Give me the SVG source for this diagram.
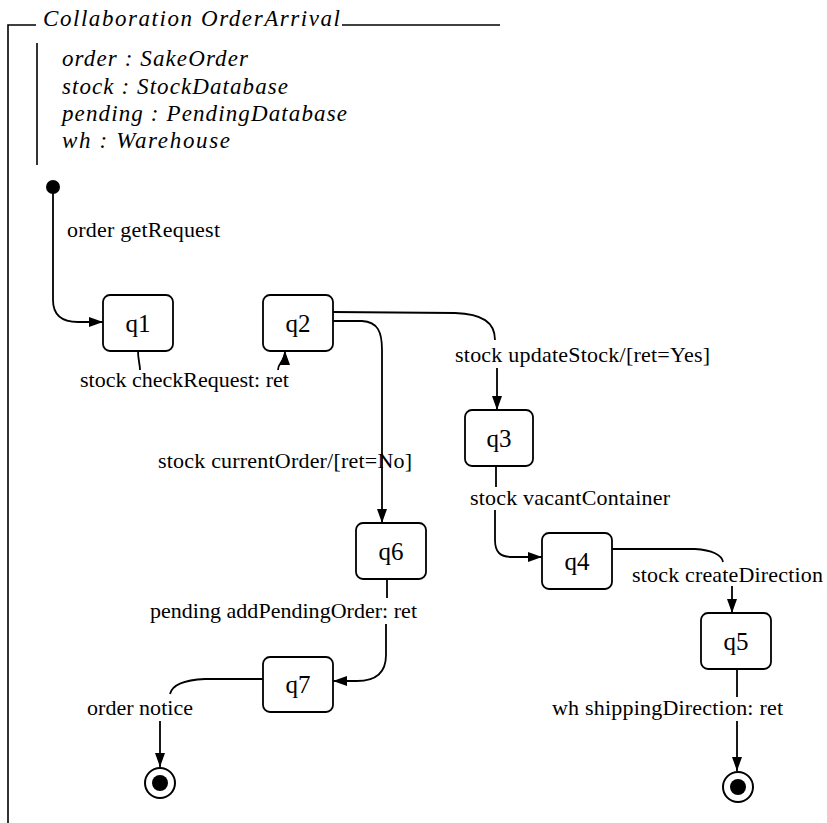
<svg xmlns="http://www.w3.org/2000/svg" width="827" height="823" viewBox="0 0 827 823">
<defs>
<style>
.frame{stroke:#000;stroke-width:1.6;fill:none}
.box{fill:#fff;stroke:#000;stroke-width:1.8}
.ql{font-family:"Liberation Serif","Times New Roman",serif;font-size:25px;text-anchor:middle;fill:#000}
.lbl{font-family:"Liberation Serif","Times New Roman",serif;font-size:22px;fill:#000}
.it{font-family:"Liberation Serif","Times New Roman",serif;font-style:italic;font-size:23px;fill:#000}
.edge{stroke:#000;stroke-width:1.8;fill:none}
</style>
<marker id="arr" viewBox="0 0 14 10" refX="14" refY="5" markerWidth="14" markerHeight="10" markerUnits="userSpaceOnUse" orient="auto">
<path d="M0,0 L14,5 L0,10 Z" fill="#000"/>
</marker>
</defs>
<rect width="827" height="823" fill="#fff"/>
<g id="frame">
<path class="frame" d="M8,823 L8,25 L36,25"/>
<path class="frame" d="M342,25 L500,25"/>
<text class="it" x="43" y="26" textLength="297" lengthAdjust="spacing">Collaboration OrderArrival</text>
<path class="frame" d="M37,43 L37,165"/>
<text class="it" x="62" y="66" textLength="186" lengthAdjust="spacing">order : SakeOrder</text>
<text class="it" x="62" y="94" textLength="226" lengthAdjust="spacing">stock : StockDatabase</text>
<text class="it" x="62" y="121" textLength="285" lengthAdjust="spacing">pending : PendingDatabase</text>
<text class="it" x="62" y="148" textLength="168" lengthAdjust="spacing">wh : Warehouse</text>
</g>
<g id="connectors">
<path class="edge" d="M53,193 L53,300 Q53,322 78,322 L103,322" marker-end="url(#arr)"/>
<path class="edge" d="M138,351 C138,360 140,364 140,370"/>
<path class="edge" d="M278,370 C278,362 285,362 285,351" marker-end="url(#arr)"/>
<path class="edge" d="M333,312 L455,313 C482,314 495,322 495,340"/>
<path class="edge" d="M497,368 L497,410" marker-end="url(#arr)"/>
<path class="edge" d="M333,321 L362,321 C378,322 382,332 382,350 L382,523" marker-end="url(#arr)"/>
<path class="edge" d="M496,466 L496,487"/>
<path class="edge" d="M495,510 L495,540 C495,552 500,557 512,557 L542,557" marker-end="url(#arr)"/>
<path class="edge" d="M612,549 L695,549 C712,550 722,555 723,562"/>
<path class="edge" d="M732,586 L732,613" marker-end="url(#arr)"/>
<path class="edge" d="M387,579 L387,598"/>
<path class="edge" d="M386,624 L386,655 C386,672 377,681 357,681 L333,681" marker-end="url(#arr)"/>
<path class="edge" d="M263,679 L205,679 C185,680 172,685 170,694"/>
<path class="edge" d="M160,721 L160,767" marker-end="url(#arr)"/>
<path class="edge" d="M737,669 L737,697"/>
<path class="edge" d="M737,721 L737,771" marker-end="url(#arr)"/>
</g>
<g id="labels">
<text class="lbl" x="67" y="237" textLength="153" lengthAdjust="spacing">order getRequest</text>
<text class="lbl" x="80" y="387">stock checkRequest: ret</text>
<text class="lbl" x="455" y="362" textLength="255" lengthAdjust="spacing">stock updateStock/[ret=Yes]</text>
<text class="lbl" x="158" y="468" textLength="254" lengthAdjust="spacing">stock currentOrder/[ret=No]</text>
<text class="lbl" x="470" y="505" textLength="200" lengthAdjust="spacing">stock vacantContainer</text>
<text class="lbl" x="632" y="582" textLength="191" lengthAdjust="spacing">stock createDirection</text>
<text class="lbl" x="150" y="618" textLength="267" lengthAdjust="spacing">pending addPendingOrder: ret</text>
<text class="lbl" x="87" y="715" textLength="106" lengthAdjust="spacing">order notice</text>
<text class="lbl" x="552" y="715" textLength="231" lengthAdjust="spacing">wh shippingDirection: ret</text>
</g>
<g id="init"><circle cx="53" cy="187" r="7" fill="#000"/></g>
<g id="q1"><rect class="box" x="103" y="295" width="70" height="56" rx="7"/><text class="ql" x="138" y="332">q1</text></g>
<g id="q2"><rect class="box" x="263" y="295" width="70" height="56" rx="7"/><text class="ql" x="298" y="332">q2</text></g>
<g id="q3"><rect class="box" x="465" y="410" width="68" height="56" rx="7"/><text class="ql" x="499" y="447">q3</text></g>
<g id="q6"><rect class="box" x="356" y="523" width="70" height="56" rx="7"/><text class="ql" x="391" y="560">q6</text></g>
<g id="q4"><rect class="box" x="542" y="533" width="70" height="56" rx="7"/><text class="ql" x="577" y="570">q4</text></g>
<g id="q5"><rect class="box" x="701" y="613" width="70" height="56" rx="7"/><text class="ql" x="736" y="650">q5</text></g>
<g id="q7"><rect class="box" x="263" y="657" width="70" height="55" rx="7"/><text class="ql" x="298" y="693">q7</text></g>
<g id="final1"><circle cx="160" cy="783" r="15" fill="#fff" stroke="#000" stroke-width="2"/><circle cx="160" cy="783" r="8" fill="#000"/></g>
<g id="final2"><circle cx="738" cy="787" r="15" fill="#fff" stroke="#000" stroke-width="2"/><circle cx="738" cy="787" r="8" fill="#000"/></g>
</svg>
